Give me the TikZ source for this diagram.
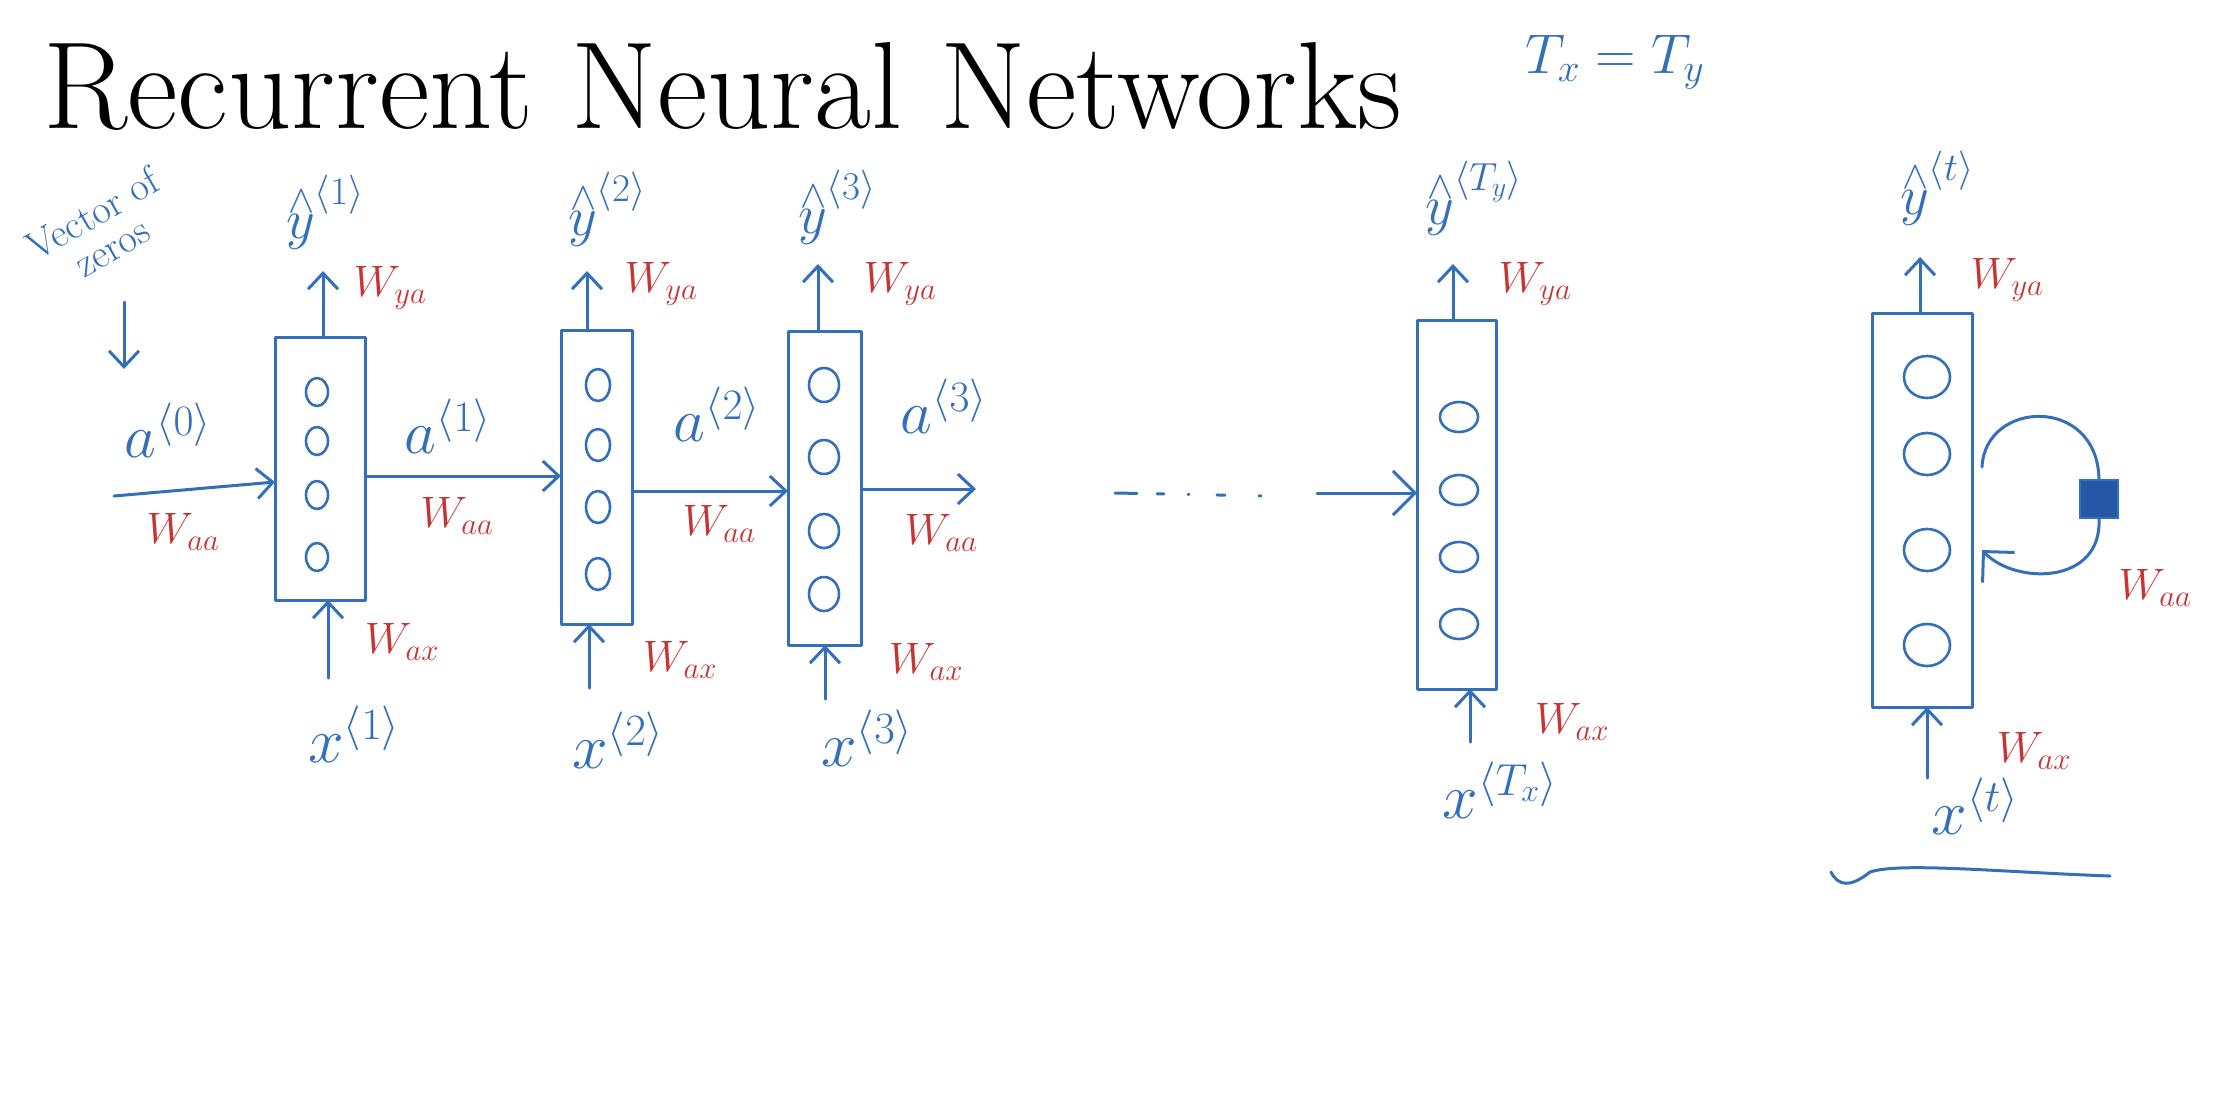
\RequirePackage{fix-cm}
\documentclass[tikz,border=0pt]{standalone}
\usepackage{fontspec}
\usetikzlibrary{arrows.meta,shapes.geometric}
\definecolor{pen}{RGB}{52,112,186}
\definecolor{ink}{RGB}{200,52,52}
\definecolor{sqfill}{RGB}{38,88,168}
\tikzset{
 hand/.style={draw=pen, line width=3pt, line cap=round, line join=round},
 cell/.style={hand, rectangle, inner sep=0pt, outer sep=0pt},
 unit/.style={hand, ellipse, inner sep=0pt, line width=2.6pt},
 arr/.style={hand, -{Straight Barb[length=16pt,width=30pt]}},
 bigarr/.style={hand, -{Straight Barb[length=22pt,width=44pt]}},
 wlab/.style={text=ink, font=\fontsize{44}{46}\selectfont, inner sep=0pt},
 ylab/.style={text=pen, font=\fontsize{56}{58}\selectfont, inner sep=0pt},
 xlab/.style={text=pen, font=\fontsize{64}{66}\selectfont, inner sep=0pt},
 alab/.style={text=pen, font=\fontsize{62}{64}\selectfont, inner sep=0pt},
}
\newcommand{\yh}[1]{$\stackrel{\wedge}{y}^{\langle #1\rangle}$}
\begin{document}
\begin{tikzpicture}[x=1pt,y=-1pt]
\fill[white] (0,0) rectangle (2238,1096);
\useasboundingbox (0,0) rectangle (2238,1096);

% title
\node[anchor=base west, inner sep=0pt, font=\fontsize{124}{130}\selectfont] (title) at (43,128) {Recurrent Neural Networks};
\node[text=pen, inner sep=0pt, font=\fontsize{56}{58}\selectfont] (txty) at (1615,62) {$T_x = T_y$};

% cells
\node[cell, minimum width=90pt, minimum height=263pt] (b1) at (320,468.5) {};
\node[cell, minimum width=71pt, minimum height=294pt] (b2) at (596.5,477) {};
\node[cell, minimum width=73pt, minimum height=314pt] (b3) at (824.5,488) {};
\node[cell, minimum width=79pt, minimum height=369pt] (b4) at (1456.5,504.5) {};
\node[cell, minimum width=100pt, minimum height=394pt] (b5) at (1922,510) {};

% units
\foreach \y [count=\i] in {392,441,495,557}
  \node[unit, minimum width=22pt, minimum height=28pt] (u1\i) at (317,\y) {};
\foreach \y [count=\i] in {385,445,507,574}
  \node[unit, minimum width=24pt, minimum height=32pt] (u2\i) at (598,\y) {};
\foreach \y [count=\i] in {385,457,531,594}
  \node[unit, minimum width=30pt, minimum height=34pt] (u3\i) at (824,\y) {};
\foreach \y [count=\i] in {417,490,557,624}
  \node[unit, minimum width=38pt, minimum height=30pt] (u4\i) at (1459,\y) {};
\foreach \y [count=\i] in {377,454,550,645}
  \node[unit, minimum width=46pt, minimum height=42pt] (u5\i) at (1927,\y) {};

% output labels
\node[ylab] (y1) at (325,212) {\yh{1}};
\node[ylab] (y2) at (607,209) {\yh{2}};
\node[ylab] (y3) at (837,207) {\yh{3}};
\node[ylab] (y4) at (1474,198) {\yh{T_y}};
\node[ylab] (y5) at (1937,188) {\yh{t}};

% input labels
\node[xlab] (x1) at (354,734) {$x^{\langle 1\rangle}$};
\node[xlab] (x2) at (618,740) {$x^{\langle 2\rangle}$};
\node[xlab] (x3) at (867,738) {$x^{\langle 3\rangle}$};
\node[xlab] (x4) at (1500,790) {$x^{\langle T_x\rangle}$};
\node[xlab] (x5) at (1975,806) {$x^{\langle t\rangle}$};

% activation labels
\node[alab] (a0) at (168,430) {$a^{\langle 0\rangle}$};
\node[alab] (a1) at (448,426) {$a^{\langle 1\rangle}$};
\node[alab] (a2) at (717,414) {$a^{\langle 2\rangle}$};
\node[alab] (a3) at (944,406) {$a^{\langle 3\rangle}$};

% weight labels
\node[wlab] (waa0) at (183,532) {$W_{aa}$};
\node[wlab] (waa1) at (457,516) {$W_{aa}$};
\node[wlab] (waa2) at (719,524) {$W_{aa}$};
\node[wlab] (waa3) at (941,533) {$W_{aa}$};
\node[wlab] (waa5) at (2155,588) {$W_{aa}$};
\node[wlab] (wya1) at (390,288) {$W_{ya}$};
\node[wlab] (wya2) at (661,284) {$W_{ya}$};
\node[wlab] (wya3) at (900,284) {$W_{ya}$};
\node[wlab] (wya4) at (1535,284) {$W_{ya}$};
\node[wlab] (wya5) at (2007,280) {$W_{ya}$};
\node[wlab] (wax1) at (402,642) {$W_{ax}$};
\node[wlab] (wax2) at (680,660) {$W_{ax}$};
\node[wlab] (wax3) at (926,662) {$W_{ax}$};
\node[wlab] (wax4) at (1572,722) {$W_{ax}$};
\node[wlab] (wax5) at (2034,751) {$W_{ax}$};

% vector of zeros
\node[text=pen, inner sep=0pt, align=center, rotate=30,
      font=\fontsize{40}{38}\selectfont] (voz) at (102,230) {Vector of\\zeros};
\coordinate (vz1) at (124,302);
\coordinate (vz2) at (124,369);
\draw[arr] (vz1) -- (vz2);

% up arrows
\coordinate (o1) at (323,271);
\coordinate (o2) at (587,271);
\coordinate (o3) at (818,264);
\coordinate (o4) at (1453,264);
\coordinate (o5) at (1920,257);
\foreach \i in {1,...,5} \draw[arr] (o\i |- b\i.north) -- (o\i);

% input arrows
\coordinate (i1) at (328,678);
\coordinate (i2) at (589,688);
\coordinate (i3) at (825,699);
\coordinate (i4) at (1470,742);
\coordinate (i5) at (1927,778);
\foreach \i in {1,...,5} \draw[arr] (i\i) -- (i\i |- b\i.south);

% horizontal arrows
\coordinate (a0t) at (114,496);
\coordinate (r0) at (0,482);
\coordinate (r1) at (0,476);
\coordinate (r2) at (0,491);
\coordinate (a3h) at (976,489);
\draw[arr] (a0t) -- (b1.west |- r0);
\draw[arr] (b1.east |- r1) -- (b2.west |- r1);
\draw[arr] (b2.east |- r2) -- (b3.west |- r2);
\draw[arr] (b3.east |- a3h) -- (a3h);

% dotted continuation
\coordinate (d0) at (1115,493);
\coordinate (d1) at (1270,496);
\draw[hand, dash pattern=on 22pt off 20pt on 7pt off 24pt on 1pt off 28pt on 8pt off 34pt on 2pt] (d0) -- (d1);
\coordinate (d2) at (1317,493);
\draw[bigarr] (d2) -- (b4.west |- d2);

% recurrence loop
\node[draw=pen, fill=sqfill, line width=2pt, minimum size=38pt, inner sep=0pt] (sq) at (2099,499) {};
\coordinate (ls) at (1982,467);
\coordinate (le) at (1982,550);
\draw[hand] (ls) .. controls (1985,400) and (2097,395) .. (sq.north);
\draw[bigarr] (sq.south) .. controls (2102,585) and (2015,585) .. (le);

% underline
\coordinate (w0) at (1831,872);
\coordinate (w1) at (2110,876);
\draw[hand] (w0) .. controls (1838,886) and (1850,888) .. (1870,872) .. controls (1900,862) and (2000,872) .. (w1);
\end{tikzpicture}
\end{document}
